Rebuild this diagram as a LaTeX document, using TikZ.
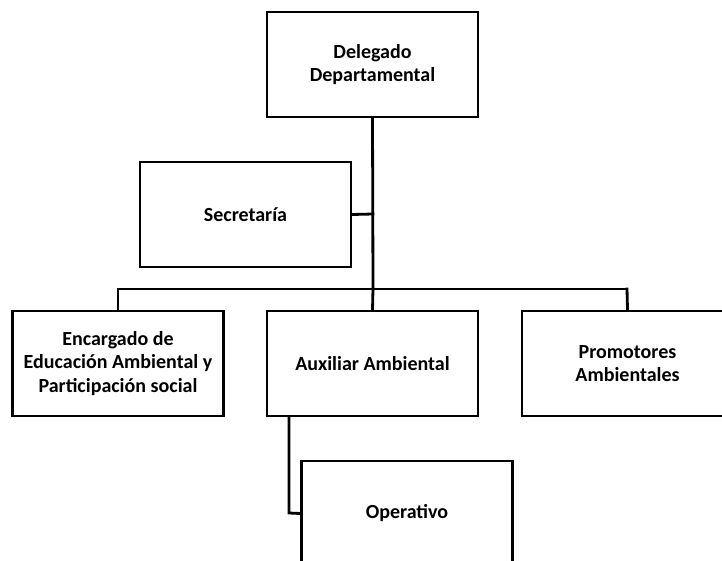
\documentclass[tikz,border=0pt]{standalone}
\usepackage{fontspec}
\setmainfont{Carlito}
\begin{document}
\begin{tikzpicture}[x=1pt,y=-1pt,
  orgbox/.style={draw=black,line width=2.8pt,fill=white,minimum width=211pt,minimum height=105pt,inner sep=0pt,align=center,font=\fontsize{20}{23.3}\selectfont\bfseries},
  link/.style={line width=2.8pt,line cap=rect}]
\useasboundingbox (0,0) rectangle (722,561);
\clip (0,0) rectangle (722,561);
\fill[white] (0,0) rectangle (722,561);
\coordinate (bus) at (373,289);
\coordinate (busL) at (118,289);
\coordinate (busR) at (627,289);
\coordinate (sj) at (373,214);
\node[orgbox] (del) at (372.5,64.5) {Delegado\\Departamental};
\node[orgbox] (sec) at (245.5,214.5) {Secretaría};
\node[orgbox] (enc) at (118,363.5) {Encargado de\\Educación Ambiental y\\Participación social};
\node[orgbox] (aux) at (372.5,363.5) {Auxiliar Ambiental};
\node[orgbox] (pro) at (627.5,363.5) {Promotores\\Ambientales};
\node[orgbox] (ope) at (407,513.5) {Operativo};
\coordinate (oj) at (289,513);
\draw[link] (del.south) -- (bus);
\draw[link] (sec.east) -- (sj);
\draw[link] (busL) -- (busR);
\draw[link] (busL) -- (enc.north);
\draw[link] (bus) -- (aux.north);
\draw[link] (busR) -- (pro.north);
\draw[link] (aux.south -| oj) -- (oj) -- (ope.west);
\end{tikzpicture}
\end{document}
